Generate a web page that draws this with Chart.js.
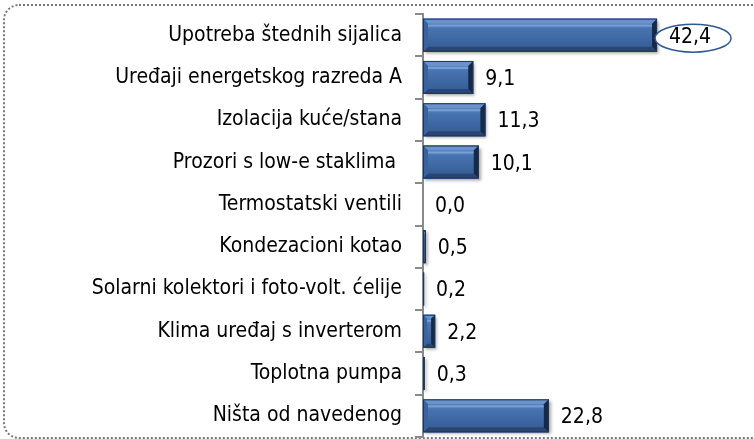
<!DOCTYPE html>
<html>
<head>
<meta charset="utf-8">
<script src="https://cdn.jsdelivr.net/npm/chart.js@4"></script>
<style>
  html, body { margin: 0; padding: 0; background: #fff; overflow: hidden; }
  #frame {
    position: absolute; left: 3px; top: 4px; width: 770px; height: 431px;
    border: 2px dotted #767680; border-radius: 16px;
  }
  #wrap { position: absolute; left: 0; top: 0; width: 754px; height: 439px; }
</style>
</head>
<body>
<div id="frame"></div>
<div id="wrap"><canvas id="chart"></canvas></div>
<script>
const categories = [
  'Upotreba štednih sijalica',
  'Uređaji energetskog razreda A',
  'Izolacija kuće/stana',
  'Prozori s low-e staklima ',
  'Termostatski ventili',
  'Kondezacioni kotao',
  'Solarni kolektori i foto-volt. ćelije',
  'Klima uređaj s inverterom',
  'Toplotna pumpa',
  'Ništa od navedenog'
];
const values = [42.4, 9.1, 11.3, 10.1, 0.0, 0.5, 0.2, 2.2, 0.3, 22.8];
const highlighted = [0];

const FONT = '"DejaVu Sans Condensed", "Liberation Sans", sans-serif';
const FONT_SIZE = 21;

// bevelled bars + value labels
const bevelPlugin = {
  id: 'bevel',
  afterDatasetsDraw(chart) {
    const ctx = chart.ctx;
    const meta = chart.getDatasetMeta(0);
    meta.data.forEach((bar, i) => {
      const L = Math.min(bar.base, bar.x), R = Math.max(bar.base, bar.x);
      const T = bar.y - bar.height / 2, B = bar.y + bar.height / 2;
      const w = R - L;
      ctx.save();
      if (w > 0.5) {
        const b = Math.min(5, w / 3);
        ctx.shadowColor = 'rgba(0,0,0,0.35)';
        ctx.shadowOffsetX = 2; ctx.shadowOffsetY = 2; ctx.shadowBlur = 3;
        ctx.fillStyle = '#3D69A5';
        ctx.fillRect(L, T, w, B - T);
        ctx.shadowColor = 'transparent';
        const g = ctx.createLinearGradient(0, T + b, 0, B - b);
        g.addColorStop(0, '#5A85C1');
        g.addColorStop(0.25, '#4673B0');
        g.addColorStop(1, '#375F98');
        ctx.fillStyle = g;
        ctx.fillRect(L + b, T + b, w - 2 * b, B - T - 2 * b);
        const poly = (pts, c) => {
          ctx.beginPath();
          ctx.moveTo(pts[0][0], pts[0][1]);
          pts.slice(1).forEach(p => ctx.lineTo(p[0], p[1]));
          ctx.closePath();
          ctx.fillStyle = c;
          ctx.fill();
        };
        poly([[L, T], [R, T], [R - b, T + b], [L + b, T + b]], '#6B93CB');
        poly([[L, B], [R, B], [R - b, B - b], [L + b, B - b]], '#294672');
        poly([[L, T], [L + b, T + b], [L + b, B - b], [L, B]], '#3A639C');
        poly([[R, T], [R - b, T + b], [R - b, B - b], [R, B]], '#142A4C');
        // highlight stripe
        ctx.fillStyle = 'rgba(150,185,230,0.55)';
        ctx.fillRect(L + b, T + b + 1, Math.max(0, w - 2 * b), 2);
        ctx.strokeStyle = '#1E3658';
        ctx.lineWidth = 1;
        ctx.strokeRect(L + 0.5, T + 0.5, w - 1, B - T - 1);
      }
      const txt = values[i].toFixed(1).replace('.', ',');
      ctx.font = FONT_SIZE + 'px ' + FONT;
      ctx.textBaseline = 'middle';
      ctx.textAlign = 'left';
      const tx = R + 12;
      if (highlighted.includes(i)) {
        const tw = ctx.measureText(txt).width;
        ctx.beginPath();
        ctx.ellipse(tx + tw / 2 + 3, bar.y + 3, 38, 14, 0, 0, Math.PI * 2);
        ctx.fillStyle = '#fff';
        ctx.fill();
        ctx.strokeStyle = '#2E5A94';
        ctx.lineWidth = 1.5;
        ctx.stroke();
      }
      ctx.fillStyle = '#000';
      ctx.fillText(txt, tx, bar.y + 2);
      ctx.restore();
    });
  }
};

new Chart(document.getElementById('chart'), {
  type: 'bar',
  data: {
    labels: categories,
    datasets: [{
      data: values,
      backgroundColor: '#3D69A5',
      borderWidth: 0,
      categoryPercentage: 1,
      barPercentage: 0.78
    }]
  },
  options: {
    indexAxis: 'y',
    responsive: true,
    maintainAspectRatio: false,
    animation: false,
    layout: { padding: { left: 0, right: 55, top: 14, bottom: 2 } },
    plugins: { legend: { display: false }, tooltip: { enabled: false } },
    scales: {
      x: { display: false, min: 0, max: 50 },
      y: {
        afterFit(scale) {
          scale.width = 423;
          scale.paddingTop = 0;
          scale.paddingBottom = 0;
        },
        border: { display: true, color: '#8a8a8a', width: 2 },
        grid: { drawOnChartArea: false, drawTicks: true, tickLength: 8, offset: true, color: '#8a8a8a', lineWidth: 2 },
        ticks: { color: '#000', padding: 13, font: { family: FONT, size: FONT_SIZE } }
      }
    }
  },
  plugins: [bevelPlugin]
});
</script>
</body>
</html>
